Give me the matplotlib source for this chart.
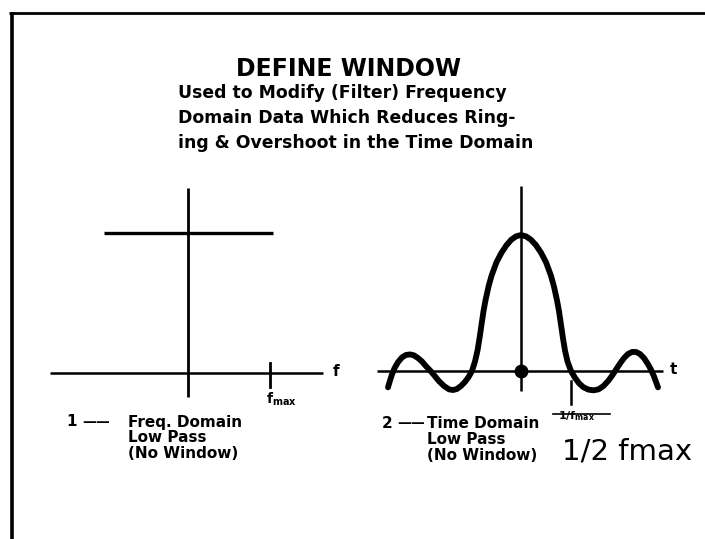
import numpy as np
import matplotlib
matplotlib.use('Agg')
import matplotlib.pyplot as plt

W, H = 705, 539

# left panel: ideal low pass in frequency domain (f in units of fmax)
pass_band = [-1.02, 1.04]
pass_level = 1.0
f_max = 1.0

# right panel: time response (t in units of 1/fmax)
t_pts = [-2.66, -2.62, -2.58, -2.53, -2.46, -2.38, -2.30, -2.22, -2.14, -2.06,
         -1.98, -1.90, -1.82, -1.74, -1.64, -1.54, -1.44, -1.36, -1.28, -1.20,
         -1.12, -1.05, -0.98, -0.92, -0.87, -0.83, -0.79, -0.75, -0.71, -0.65,
         -0.59, -0.49, -0.39, -0.29, -0.195, -0.10, 0.0,
         0.10, 0.20, 0.30, 0.40, 0.50, 0.60, 0.66, 0.72, 0.76,
         0.80, 0.84, 0.88, 0.93, 1.00, 1.08, 1.16, 1.25, 1.35, 1.45,
         1.55, 1.65, 1.75, 1.82, 1.90, 1.98, 2.06, 2.14, 2.22, 2.30,
         2.38, 2.46, 2.54, 2.60, 2.66, 2.70, 2.74]
amp = [-0.12, -0.07, -0.025, 0.02, 0.065, 0.10, 0.118, 0.122, 0.115, 0.095,
       0.07, 0.035, 0.005, -0.03, -0.075, -0.11, -0.135, -0.14, -0.132, -0.11,
       -0.08, -0.045, 0.0, 0.07, 0.15, 0.24, 0.34, 0.44, 0.52, 0.62,
       0.70, 0.80, 0.87, 0.925, 0.965, 0.99, 1.0,
       0.99, 0.965, 0.925, 0.87, 0.80, 0.70, 0.62, 0.52, 0.44,
       0.34, 0.24, 0.15, 0.07, 0.0, -0.05, -0.09, -0.12, -0.137, -0.142,
       -0.135, -0.11, -0.07, -0.035, 0.01, 0.055, 0.095, 0.125, 0.14, 0.14,
       0.125, 0.095, 0.05, 0.01, -0.04, -0.08, -0.12]
t_mark = 1.0

fig = plt.figure(figsize=(W / 100, H / 100), dpi=100)
fig.patch.set_facecolor('white')

# full-figure axes in pixel units for frame and text
bg = fig.add_axes([0, 0, 1, 1])
bg.set_xlim(0, W)
bg.set_ylim(H, 0)
bg.axis('off')

def panel(x0, x1, y0, y1, ox, oy, ux, uy):
    ax = fig.add_axes([x0 / W, 1 - y1 / H, (x1 - x0) / W, (y1 - y0) / H])
    ax.set_xlim((x0 - ox) / ux, (x1 - ox) / ux)
    ax.set_ylim((oy - y1) / uy, (oy - y0) / uy)
    ax.axis('off')
    return ax

# frame
bg.plot([9, W], [13, 13], color='black', lw=2.0, solid_capstyle='butt')
bg.plot([12, 12], [12, H], color='black', lw=2.6, solid_capstyle='butt')

font = 'DejaVu Sans'
bg.text(348, 69, 'DEFINE WINDOW', ha='center', va='center', fontsize=17,
        fontweight='bold', family=font)
subtitle = ['Used to Modify (Filter) Frequency',
            'Domain Data Which Reduces Ring-',
            'ing & Overshoot in the Time Domain']
for i, line in enumerate(subtitle):
    bg.text(178, 93 + 25 * i, line, ha='left', va='center', fontsize=12.4,
            fontweight='bold', family=font)

# left panel
ax1 = panel(30, 350, 170, 420, 188, 373, 82, 140)
ax1.plot([-1.68, 1.65], [0, 0], color='black', lw=1.8, solid_capstyle='butt')
ax1.plot([0, 0], [-0.17, 1.32], color='black', lw=2.0, solid_capstyle='butt')
ax1.plot(pass_band, [pass_level, pass_level], color='black', lw=2.4,
         solid_capstyle='butt')
ax1.plot([f_max, f_max], [-0.10, 0.07], color='black', lw=2.0)
ax1.text(1.77, 0.01, 'f', ha='left', va='center', fontsize=11,
         fontweight='bold', family=font)
ax1.text(f_max - 0.05, -0.19, r'$\mathbf{f}_{\mathbf{max}}$', ha='left',
         va='center', fontsize=10)

# right panel
ax2 = panel(360, 690, 170, 420, 521, 371, 50, 136)
ax2.plot([-2.88, 2.84], [0, 0], color='black', lw=1.8, solid_capstyle='butt')
ax2.plot([0, 0], [-0.15, 1.36], color='black', lw=1.8, solid_capstyle='butt')
ax2.plot(t_pts, amp, color='black', lw=4.2, solid_capstyle='round',
         solid_joinstyle='round')
ax2.plot([0], [0], 'o', color='black', ms=9)
ax2.plot([t_mark, t_mark], [-0.07, -0.24], color='black', lw=1.8)
ax2.text(2.98, 0.01, 't', ha='left', va='center', fontsize=11,
         fontweight='bold', family=font)

# captions
cap = dict(ha='left', va='center', fontsize=11, fontweight='bold', family=font)
bg.text(66, 422, '1', **cap)
bg.text(82, 422, '\u2014\u2014', ha='left', va='center', fontsize=10,
        fontweight='bold', family=font)
for i, line in enumerate(['Freq. Domain', 'Low Pass', '(No Window)']):
    bg.text(128, 422 + 16 * i, line, **cap)
bg.text(382, 423, '2', **cap)
bg.text(397, 423, '\u2014\u2014', ha='left', va='center', fontsize=10,
        fontweight='bold', family=font)
for i, line in enumerate(['Time Domain', 'Low Pass', '(No Window)']):
    bg.text(427, 423 + 16 * i, line, **cap)

# crossed-out 1/fmax and handwritten correction
bg.text(558, 419, r'$\mathbf{1/f}_{\mathbf{max}}$', ha='left',
        va='baseline', fontsize=8)
bg.plot([553, 610], [414, 414], color='black', lw=1.2)
bg.text(562, 452, '1/2 fmax', ha='left', va='center', fontsize=21,
        family=font, fontweight='normal')

fig.savefig('out.png', dpi=100)
